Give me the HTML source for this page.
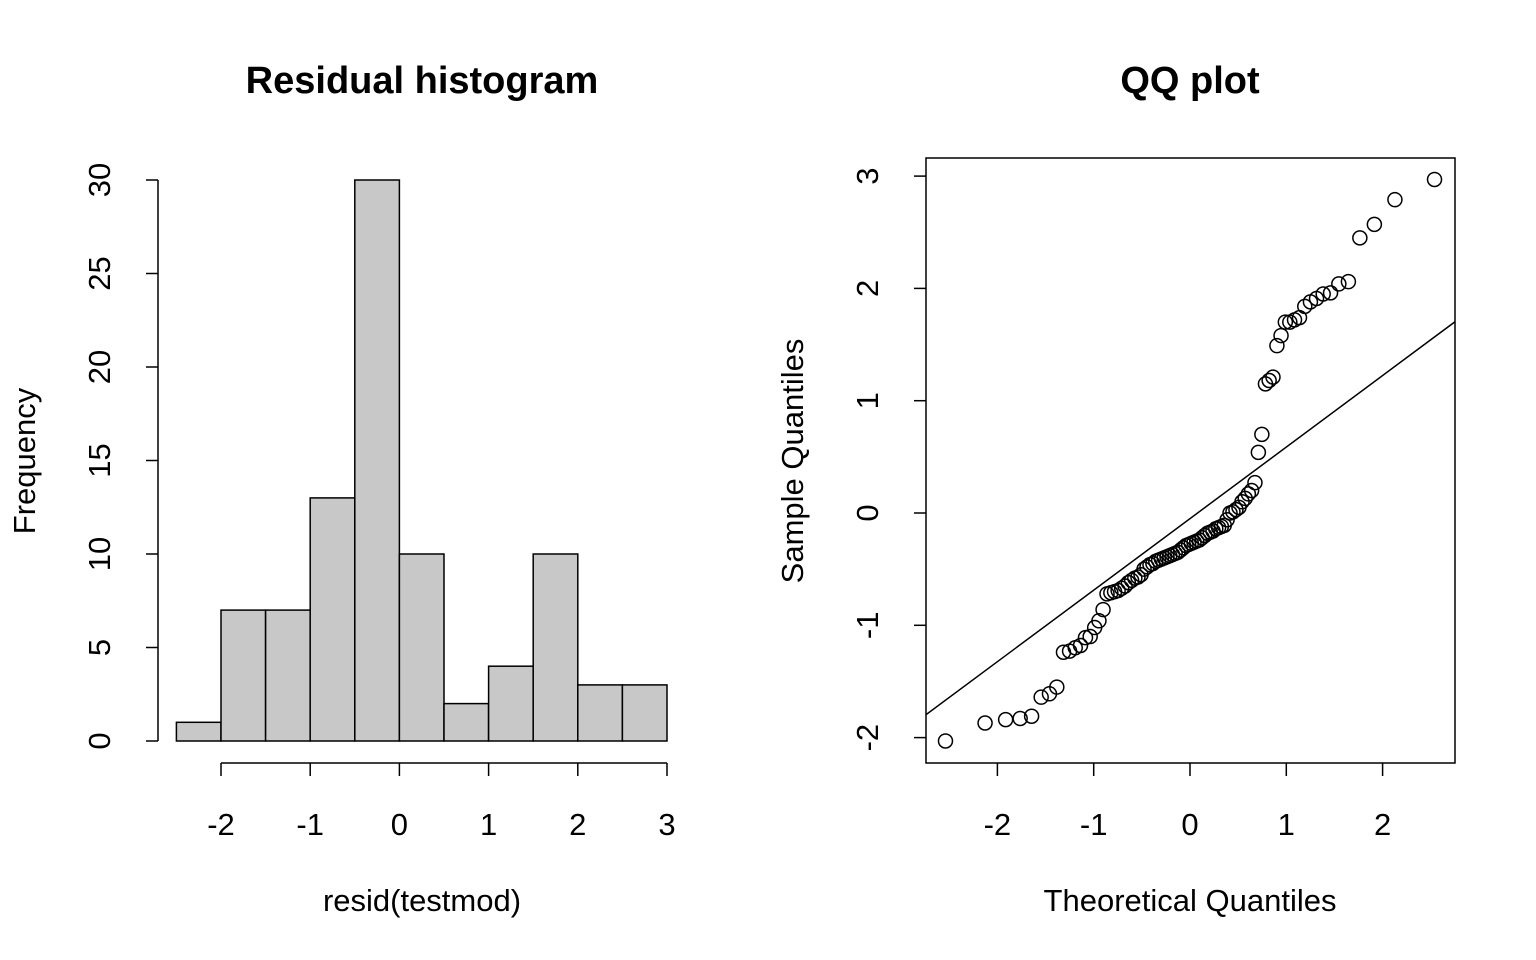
<!DOCTYPE html>
<html><head><meta charset="utf-8"><style>
html,body{margin:0;padding:0;background:#fff}
svg{display:block;font-family:"Liberation Sans",Arial,sans-serif}
</style></head><body>
<svg id="c" width="1536" height="960" viewBox="0 0 1536 960">
<rect width="1536" height="960" fill="#fff"/>
<g id="hist"></g>
<g id="qq"></g>
</svg>
<script>
const histBreaks = [-2.5,-2,-1.5,-1,-0.5,0,0.5,1,1.5,2,2.5,3];
const histCounts = [1,7,7,13,30,10,2,4,10,3,3];
const histXTicks = [-2,-1,0,1,2,3];
const histYTicks = [0,5,10,15,20,25,30];
const qqSample = [-2.03,-1.87,-1.84,-1.83,-1.81,-1.64,-1.61,-1.55,-1.24,-1.23,-1.20,-1.18,-1.11,-1.10,-1.02,-0.96,-0.86,-0.72,-0.71,-0.70,
-0.69,-0.67,-0.65,-0.62,-0.60,-0.58,-0.57,-0.55,-0.50,-0.48,-0.46,-0.45,-0.43,-0.42,-0.41,-0.40,-0.39,-0.38,-0.37,-0.36,-0.35,-0.33,-0.31,-0.29,-0.28,-0.27,-0.26,-0.25,-0.24,-0.22,-0.20,-0.18,-0.17,-0.16,-0.14,-0.13,-0.12,-0.11,-0.06,
0.00,0.01,0.03,0.05,0.10,0.13,0.17,0.20,0.27,0.54,0.70,1.15,1.18,1.21,1.49,1.58,1.70,1.70,1.72,1.74,1.84,1.88,1.91,1.95,1.96,2.04,2.06,2.45,2.57,2.79,2.97];
const qqXTicks = [-2,-1,0,1,2];
const qqYTicks = [-2,-1,0,1,2,3];
const qqLine = [-0.05, 0.637]; // intercept, slope

const NS="http://www.w3.org/2000/svg";
const TF=31, TT=38;
function mk(parent,tag,attrs,text){const e=document.createElementNS(NS,tag);for(const k in attrs)e.setAttribute(k,attrs[k]);if(text!==undefined)e.textContent=text;parent.appendChild(e);return e;}

function qnorm(p){const a=[-39.69683028665376,220.9460984245205,-275.9285104469687,138.357751867269,-30.66479806614716,2.506628277459239],b=[-54.47609879822406,161.5858368580409,-155.6989798598866,66.80131188771972,-13.28068155288572],c=[-0.007784894002430293,-0.3223964580411365,-2.400758277161838,-2.549732539343734,4.374664141464968,2.938163982698783],d=[0.007784695709041462,0.3224671290700398,2.445134137142996,3.754408661907416];const pl=0.02425;let q,r;
if(p<pl){q=Math.sqrt(-2*Math.log(p));return(((((c[0]*q+c[1])*q+c[2])*q+c[3])*q+c[4])*q+c[5])/((((d[0]*q+d[1])*q+d[2])*q+d[3])*q+1);}
if(p>1-pl){q=Math.sqrt(-2*Math.log(1-p));return-(((((c[0]*q+c[1])*q+c[2])*q+c[3])*q+c[4])*q+c[5])/((((d[0]*q+d[1])*q+d[2])*q+d[3])*q+1);}
q=p-0.5;r=q*q;return(((((a[0]*r+a[1])*r+a[2])*r+a[3])*r+a[4])*r+a[5])*q/(((((b[0]*r+b[1])*r+b[2])*r+b[3])*r+b[4])*r+1);}

// ---------- Histogram ----------
const H=document.getElementById('hist');
const hx=v=>221+(v+2)*89.2;
const hy=v=>741-v*18.7;
let t;
t=mk(H,'text',{x:422,y:93,'text-anchor':'middle','font-size':TT,'font-weight':'bold'},'Residual histogram');

histCounts.forEach((c,i)=>{
  const r=mk(H,'rect',{x:hx(histBreaks[i]),y:hy(c),width:hx(histBreaks[i+1])-hx(histBreaks[i]),height:hy(0)-hy(c),fill:'#c8c8c8',stroke:'#000','stroke-width':1.5});
  
});
let ax=mk(H,'line',{x1:hx(histXTicks[0]),x2:hx(histXTicks[histXTicks.length-1]),y1:763,y2:763,stroke:'#000','stroke-width':1.5});

histXTicks.forEach(v=>{
  mk(H,'line',{x1:hx(v),x2:hx(v),y1:763,y2:776,stroke:'#000','stroke-width':1.5});
  const l=mk(H,'text',{x:hx(v),y:835,'text-anchor':'middle','font-size':TF},String(v));
  
});
ax=mk(H,'line',{x1:158,x2:158,y1:hy(0),y2:hy(30),stroke:'#000','stroke-width':1.5});

histYTicks.forEach(v=>{
  mk(H,'line',{x1:146,x2:158,y1:hy(v),y2:hy(v),stroke:'#000','stroke-width':1.5});
  const l=mk(H,'text',{x:110,y:hy(v),'text-anchor':'middle','font-size':TF,transform:`rotate(-90 110 ${hy(v)})`},String(v));
  
});
t=mk(H,'text',{x:422,y:911,'text-anchor':'middle','font-size':TF},'resid(testmod)');

t=mk(H,'text',{x:35,y:461,'text-anchor':'middle','font-size':TF,transform:'rotate(-90 35 461)'},'Frequency');


// ---------- QQ plot ----------
const Q=document.getElementById('qq');
const qx=v=>1190+v*96.3;
const qy=v=>513-v*112.3;
t=mk(Q,'text',{x:1190,y:93,'text-anchor':'middle','font-size':TT,'font-weight':'bold'},'QQ plot');

const cp=mk(Q,'clipPath',{id:'qqclip'});mk(cp,'rect',{x:926,y:158,width:529,height:605});
const xl=-2.75,xr=2.75;
const ln=mk(Q,'line',{x1:qx(xl),y1:qy(qqLine[0]+qqLine[1]*xl),x2:qx(xr),y2:qy(qqLine[0]+qqLine[1]*xr),stroke:'#000','stroke-width':1.5,'clip-path':'url(#qqclip)'});

const n=qqSample.length;
qqSample.forEach((s,i)=>{
  const th=qnorm((i+1-0.5)/n);
  const c=mk(Q,'circle',{cx:qx(th),cy:qy(s),r:7,fill:'none',stroke:'#000','stroke-width':1.5});
  
});
const box=mk(Q,'rect',{x:926,y:158,width:529,height:605,fill:'none',stroke:'#000','stroke-width':1.5});

qqXTicks.forEach(v=>{
  mk(Q,'line',{x1:qx(v),x2:qx(v),y1:763,y2:776,stroke:'#000','stroke-width':1.5});
  const l=mk(Q,'text',{x:qx(v),y:835,'text-anchor':'middle','font-size':TF},String(v));
  
});
qqYTicks.forEach(v=>{
  mk(Q,'line',{x1:914,x2:926,y1:qy(v),y2:qy(v),stroke:'#000','stroke-width':1.5});
  const l=mk(Q,'text',{x:878,y:qy(v),'text-anchor':'middle','font-size':TF,transform:`rotate(-90 878 ${qy(v)})`},String(v));
  
});
t=mk(Q,'text',{x:1190,y:911,'text-anchor':'middle','font-size':TF},'Theoretical Quantiles');

t=mk(Q,'text',{x:803,y:461,'text-anchor':'middle','font-size':TF,transform:'rotate(-90 803 461)'},'Sample Quantiles');

</script>
</body></html>
